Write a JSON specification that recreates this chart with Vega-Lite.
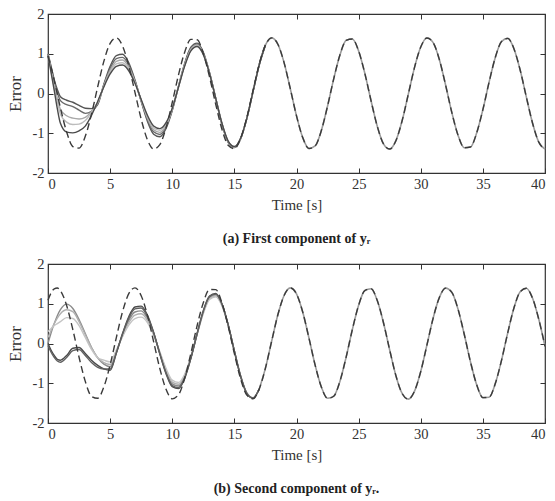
{
"$schema": "https://vega.github.io/schema/vega-lite/v6.json",
"background": "white",
"padding": {"left": 6, "top": 5, "right": 1, "bottom": 2},
"spacing": 8,
"config": {
  "font": "Liberation Serif",
  "view": {"stroke": "#333", "strokeWidth": 1.2},
  "axis": {"labelFont": "Liberation Serif", "titleFont": "Liberation Serif", "labelColor": "#333", "titleColor": "#333", "tickColor": "#333", "grid": false, "domain": false, "labelFontSize": 14.5, "titleFontSize": 15, "titleFontWeight": "normal", "tickSize": -5, "labelPadding": 9},
  "title": {"font": "Liberation Serif", "color": "#222"}
},
"resolve": {"scale": {"color": "independent"}},
"datasets": {
"a": [
{"t":0,"r":0.942,"s1":1.0,"s2":0.99,"s3":0.98,"s4":0.97,"s5":0.96},
{"t":0.25,"r":0.655,"s1":0.68,"s2":0.65,"s3":0.60,"s4":0.57,"s5":0.52},
{"t":0.5,"r":0.330,"s1":0.35,"s2":0.30,"s3":0.22,"s4":0.15,"s5":0.08},
{"t":0.75,"r":-0.017,"s1":0.10,"s2":0.03,"s3":-0.12,"s4":-0.20,"s5":-0.38},
{"t":1,"r":-0.363,"s1":-0.08,"s2":-0.18,"s3":-0.40,"s4":-0.52,"s5":-0.75},
{"t":1.5,"r":-0.966,"s1":-0.17,"s2":-0.28,"s3":-0.56,"s4":-0.72,"s5":-0.97},
{"t":2,"r":-1.334,"s1":-0.22,"s2":-0.33,"s3":-0.62,"s4":-0.78,"s5":-0.99},
{"t":2.5,"r":-1.374,"s1":-0.30,"s2":-0.42,"s3":-0.64,"s4":-0.77,"s5":-0.94},
{"t":3,"r":-1.078,"s1":-0.37,"s2":-0.50,"s3":-0.60,"s4":-0.68,"s5":-0.82},
{"t":3.5,"r":-0.519,"s1":-0.38,"s2":-0.45,"s3":-0.45,"s4":-0.48,"s5":-0.55},
{"t":4,"r":0.169,"s1":-0.276,"s2":-0.254,"s3":-0.235,"s4":-0.215,"s5":-0.199},
{"t":4.5,"r":0.814,"s1":0.238,"s2":0.219,"s3":0.202,"s4":0.186,"s5":0.171},
{"t":5,"r":1.261,"s1":0.682,"s2":0.627,"s3":0.580,"s4":0.532,"s5":0.491},
{"t":5.5,"r":1.398,"s1":0.952,"s2":0.876,"s3":0.809,"s4":0.743,"s5":0.685},
{"t":6,"r":1.194,"s1":0.986,"s2":0.910,"s3":0.842,"s4":0.775,"s5":0.718},
{"t":6.5,"r":0.697,"s1":0.770,"s2":0.714,"s3":0.664,"s4":0.614,"s5":0.572},
{"t":7,"r":0.029,"s1":0.338,"s2":0.315,"s3":0.294,"s4":0.274,"s5":0.256},
{"t":7.5,"r":-0.646,"s1":-0.199,"s2":-0.186,"s3":-0.174,"s4":-0.163,"s5":-0.153},
{"t":8,"r":-1.162,"s1":-0.698,"s2":-0.655,"s3":-0.618,"s4":-0.581,"s5":-0.548},
{"t":8.5,"r":-1.394,"s1":-1.023,"s2":-0.964,"s3":-0.913,"s4":-0.861,"s5":-0.818},
{"t":9,"r":-1.285,"s1":-1.089,"s2":-1.030,"s3":-0.979,"s4":-0.928,"s5":-0.884},
{"t":9.5,"r":-0.861,"s1":-0.878,"s2":-0.837,"s3":-0.802,"s4":-0.766,"s5":-0.735},
{"t":10,"r":-0.227,"s1":-0.428,"s2":-0.412,"s3":-0.397,"s4":-0.383,"s5":-0.371},
{"t":10.5,"r":0.465,"s1":0.178,"s2":0.173,"s3":0.168,"s4":0.163,"s5":0.159},
{"t":11,"r":1.040,"s1":0.758,"s2":0.738,"s3":0.721,"s4":0.704,"s5":0.689},
{"t":11.5,"r":1.362,"s1":1.164,"s2":1.138,"s3":1.116,"s4":1.093,"s5":1.074},
{"t":12,"r":1.351,"s1":1.267,"s2":1.242,"s3":1.221,"s4":1.200,"s5":1.181},
{"t":12.5,"r":1.008,"s1":1.039,"s2":1.021,"s3":1.007,"s4":0.991,"s5":0.978},
{"t":13,"r":0.418,"s1":0.527,"s2":0.520,"s3":0.514,"s4":0.508,"s5":0.503},
{"t":13.5,"r":-0.273,"s1":-0.127,"s2":-0.126,"s3":-0.125,"s4":-0.124,"s5":-0.123},
{"t":14,"r":-0.900,"s1":-0.775,"s2":-0.768,"s3":-0.762,"s4":-0.755,"s5":-0.750},
{"t":14.5,"r":-1.303,"s1":-1.228,"s2":-1.219,"s3":-1.211,"s4":-1.204,"s5":-1.197},
{"t":15,"r":-1.389,"s1":-1.360,"s2":-1.353,"s3":-1.347,"s4":-1.340,"s5":-1.335},
{"t":15.5,"r":-1.134,"s1":-1.143,"s2":-1.138,"s3":-1.135,"s4":-1.130,"s5":-1.126},
{"t":16,"r":-0.605,"s1":-0.632,"s2":-0.630,"s3":-0.629,"s4":-0.627,"s5":-0.626},
{"t":16.5,"r":0.077,"s1":0.047,"s2":0.047,"s3":0.047,"s4":0.047,"s5":0.047},
{"t":17,"r":0.738,"s1":0.722,"s2":0.721,"s3":0.720,"s4":0.719,"s5":0.718},
{"t":17.5,"r":1.218,"s1":1.218,"s2":1.218,"s3":1.218,"s4":1.218,"s5":1.218},
{"t":18,"r":1.400},{"t":18.5,"r":1.239},{"t":19,"r":0.777},{"t":19.5,"r":0.121},
{"t":20,"r":-0.562},{"t":20.5,"r":-1.109},{"t":21,"r":-1.383},{"t":21.5,"r":-1.319},
{"t":22,"r":-0.932},{"t":22.5,"r":-0.316},{"t":23,"r":0.375},{"t":23.5,"r":0.975},
{"t":24,"r":1.338},{"t":24.5,"r":1.372},{"t":25,"r":1.070},{"t":25.5,"r":0.506},
{"t":26,"r":-0.182},{"t":26.5,"r":-0.824},{"t":27,"r":-1.266},{"t":27.5,"r":-1.398},
{"t":28,"r":-1.187},{"t":28.5,"r":-0.686},{"t":29,"r":-0.016},{"t":29.5,"r":0.658},
{"t":30,"r":1.169},{"t":30.5,"r":1.395},{"t":31,"r":1.279},{"t":31.5,"r":0.851},
{"t":32,"r":0.213},{"t":32.5,"r":-0.477},{"t":33,"r":-1.050},{"t":33.5,"r":-1.365},
{"t":34,"r":-1.347},{"t":34.5,"r":-0.993},{"t":35,"r":-0.406},{"t":35.5,"r":0.286},
{"t":36,"r":0.907},{"t":36.5,"r":1.308},{"t":37,"r":1.387},{"t":37.5,"r":1.127},
{"t":38,"r":0.592},{"t":38.5,"r":-0.090},{"t":39,"r":-0.748},{"t":39.5,"r":-1.224},
{"t":40,"r":-1.400}
],
"b": [
{"t":0,"r":1.089,"s1":0.0,"s2":0.15,"s3":0.30,"s4":0.0,"s5":-0.05},
{"t":0.25,"r":1.273,"s1":0.27,"s2":0.33,"s3":0.38,"s4":-0.17,"s5":-0.22},
{"t":0.5,"r":1.377,"s1":0.50,"s2":0.50,"s3":0.45,"s4":-0.30,"s5":-0.35},
{"t":0.75,"r":1.397,"s1":0.70,"s2":0.64,"s3":0.50,"s4":-0.40,"s5":-0.44},
{"t":1,"r":1.329,"s1":0.85,"s2":0.75,"s3":0.55,"s4":-0.42,"s5":-0.47},
{"t":1.5,"r":0.955,"s1":0.99,"s2":0.85,"s3":0.65,"s4":-0.30,"s5":-0.35},
{"t":2,"r":0.347,"s1":0.88,"s2":0.80,"s3":0.63,"s4":-0.12,"s5":-0.18},
{"t":2.5,"r":-0.345,"s1":0.60,"s2":0.55,"s3":0.45,"s4":-0.10,"s5":-0.15},
{"t":3,"r":-0.953,"s1":0.25,"s2":0.22,"s3":0.15,"s4":-0.25,"s5":-0.30},
{"t":3.5,"r":-1.329,"s1":-0.10,"s2":-0.10,"s3":-0.15,"s4":-0.42,"s5":-0.48},
{"t":4,"r":-1.378,"s1":-0.36,"s2":-0.36,"s3":-0.36,"s4":-0.55,"s5":-0.60},
{"t":4.5,"r":-1.090,"s1":-0.52,"s2":-0.48,"s3":-0.42,"s4":-0.64,"s5":-0.64},
{"t":5,"r":-0.537,"s1":-0.584,"s2":-0.527,"s3":-0.463,"s4":-0.676,"s5":-0.641},
{"t":5.5,"r":0.150,"s1":-0.212,"s2":-0.192,"s3":-0.168,"s4":-0.246,"s5":-0.233},
{"t":6,"r":0.800,"s1":0.216,"s2":0.195,"s3":0.172,"s4":0.251,"s5":0.238},
{"t":6.5,"r":1.253,"s1":0.581,"s2":0.525,"s3":0.461,"s4":0.674,"s5":0.638},
{"t":7,"r":1.399,"s1":0.792,"s2":0.715,"s3":0.628,"s4":0.918,"s5":0.869},
{"t":7.5,"r":1.203,"s1":0.821,"s2":0.747,"s3":0.664,"s4":0.940,"s5":0.894},
{"t":8,"r":0.714,"s1":0.635,"s2":0.584,"s3":0.528,"s4":0.716,"s5":0.684},
{"t":8.5,"r":0.047,"s1":0.253,"s2":0.235,"s3":0.216,"s4":0.281,"s5":0.270},
{"t":9,"r":-0.630,"s1":-0.240,"s2":-0.226,"s3":-0.210,"s4":-0.263,"s5":-0.254},
{"t":9.5,"r":-1.152,"s1":-0.702,"s2":-0.666,"s3":-0.626,"s4":-0.760,"s5":-0.737},
{"t":10,"r":-1.392,"s1":-1.015,"s2":-0.970,"s3":-0.921,"s4":-1.087,"s5":-1.059},
{"t":10.5,"r":-1.292,"s1":-1.068,"s2":-1.026,"s3":-0.980,"s4":-1.135,"s5":-1.109},
{"t":11,"r":-0.875,"s1":-0.833,"s2":-0.804,"s3":-0.772,"s4":-0.879,"s5":-0.861},
{"t":11.5,"r":-0.245,"s1":-0.357,"s2":-0.346,"s3":-0.334,"s4":-0.374,"s5":-0.367},
{"t":12,"r":0.447,"s1":0.238,"s2":0.232,"s3":0.225,"s4":0.249,"s5":0.245},
{"t":12.5,"r":1.027,"s1":0.794,"s2":0.775,"s3":0.754,"s4":0.824,"s5":0.812},
{"t":13,"r":1.358,"s1":1.155,"s2":1.132,"s3":1.106,"s4":1.194,"s5":1.179},
{"t":13.5,"r":1.355,"s1":1.222,"s2":1.201,"s3":1.178,"s4":1.257,"s5":1.243},
{"t":14,"r":1.020,"s1":0.978,"s2":0.965,"s3":0.950,"s4":1.000,"s5":0.992},
{"t":14.5,"r":0.436,"s1":0.466,"s2":0.461,"s3":0.456,"s4":0.474,"s5":0.471},
{"t":15,"r":-0.255,"s1":-0.189,"s2":-0.188,"s3":-0.186,"s4":-0.192,"s5":-0.191},
{"t":15.5,"r":-0.886,"s1":-0.817,"s2":-0.812,"s3":-0.807,"s4":-0.825,"s5":-0.822},
{"t":16,"r":-1.297,"s1":-1.248,"s2":-1.243,"s3":-1.237,"s4":-1.257,"s5":-1.253},
{"t":16.5,"r":-1.391,"s1":-1.370,"s2":-1.367,"s3":-1.363,"s4":-1.375,"s5":-1.373},
{"t":17,"r":-1.145,"s1":-1.145,"s2":-1.145,"s3":-1.145,"s4":-1.145,"s5":-1.145},
{"t":17.5,"r":-0.620},{"t":18,"r":0.058},{"t":18.5,"r":0.723},{"t":19,"r":1.208},
{"t":19.5,"r":1.399},{"t":20,"r":1.248},{"t":20.5,"r":0.791},{"t":21,"r":0.140},
{"t":21.5,"r":-0.544},{"t":22,"r":-1.096},{"t":22.5,"r":-1.379},{"t":23,"r":-1.326},
{"t":23.5,"r":-0.947},{"t":24,"r":-0.336},{"t":24.5,"r":0.357},{"t":25,"r":0.962},
{"t":25.5,"r":1.332},{"t":26,"r":1.376},{"t":26.5,"r":1.082},{"t":27,"r":0.523},
{"t":27.5,"r":-0.163},{"t":28,"r":-0.809},{"t":28.5,"r":-1.257},{"t":29,"r":-1.399},
{"t":29.5,"r":-1.197},{"t":30,"r":-0.703},{"t":30.5,"r":-0.036},{"t":31,"r":0.640},
{"t":31.5,"r":1.159},{"t":32,"r":1.393},{"t":32.5,"r":1.288},{"t":33,"r":0.865},
{"t":33.5,"r":0.232},{"t":34,"r":-0.458},{"t":34.5,"r":-1.036},{"t":35,"r":-1.361},
{"t":35.5,"r":-1.352},{"t":36,"r":-1.008},{"t":36.5,"r":-0.425},{"t":37,"r":0.268},
{"t":37.5,"r":0.893},{"t":38,"r":1.301},{"t":38.5,"r":1.390},{"t":39,"r":1.138},
{"t":39.5,"r":0.609},{"t":40,"r":-0.070}
]
},
"vconcat": [
{
  "width": 497, "height": 159,
  "title": {"text": "(a) First component of yᵣ", "orient": "bottom", "fontSize": 14, "fontWeight": "bold", "offset": 19},
  "data": {"name": "a"},
  "resolve": {"axis": {"x": "independent", "y": "independent"}},
  "layer": [
    {"transform": [{"filter": "datum.t >= 17"}],
     "mark": {"type": "line", "stroke": "#9a9a9a", "strokeWidth": 1.6, "interpolate": "monotone"},
     "encoding": {
       "x": {"field": "t", "type": "quantitative", "scale": {"domain": [0, 40], "nice": false},
             "axis": {"orient": "bottom", "values": [0,5,10,15,20,25,30,35,40], "title": "Time [s]", "titlePadding": 7}},
       "y": {"field": "r", "type": "quantitative", "scale": {"domain": [-2, 2], "nice": false},
             "axis": {"orient": "left", "values": [-2,-1,0,1,2], "title": "Error", "titleFontSize": 17, "titlePadding": 7, "labelExpr": "'' + datum.value"}}
     }},
    {"transform": [{"fold": ["s1","s2","s3","s4","s5"], "as": ["k","v"]}, {"filter": "isValid(datum.v)"}],
     "mark": {"type": "line", "strokeWidth": 1.4, "interpolate": "monotone"},
     "encoding": {
       "x": {"field": "t", "type": "quantitative", "axis": null},
       "y": {"field": "v", "type": "quantitative", "axis": null},
       "color": {"field": "k", "type": "nominal", "legend": null,
                 "scale": {"domain": ["s1","s2","s3","s4","s5"], "range": ["#555555","#6a6a6a","#a8a8a8","#bcbcbc","#4a4a4a"]}}
     }},
    {"mark": {"type": "line", "stroke": "#3a3a3a", "strokeWidth": 1.4, "strokeDash": [7, 4], "interpolate": "monotone"},
     "encoding": {
       "x": {"field": "t", "type": "quantitative", "axis": {"orient": "top", "values": [0,5,10,15,20,25,30,35,40], "labels": false, "title": null}},
       "y": {"field": "r", "type": "quantitative", "axis": {"orient": "right", "values": [-2,-1,0,1,2], "labels": false, "title": null}}
     }}
  ]
},
{
  "width": 497, "height": 159,
  "title": {"text": "(b) Second component of yᵣ.", "orient": "bottom", "fontSize": 14, "fontWeight": "bold", "offset": 19},
  "data": {"name": "b"},
  "resolve": {"axis": {"x": "independent", "y": "independent"}},
  "layer": [
    {"transform": [{"filter": "datum.t >= 17"}],
     "mark": {"type": "line", "stroke": "#9a9a9a", "strokeWidth": 1.6, "interpolate": "monotone"},
     "encoding": {
       "x": {"field": "t", "type": "quantitative", "scale": {"domain": [0, 40], "nice": false},
             "axis": {"orient": "bottom", "values": [0,5,10,15,20,25,30,35,40], "title": "Time [s]", "titlePadding": 7}},
       "y": {"field": "r", "type": "quantitative", "scale": {"domain": [-2, 2], "nice": false},
             "axis": {"orient": "left", "values": [-2,-1,0,1,2], "title": "Error", "titleFontSize": 17, "titlePadding": 7, "labelExpr": "'' + datum.value"}}
     }},
    {"transform": [{"fold": ["s1","s2","s3","s4","s5"], "as": ["k","v"]}, {"filter": "isValid(datum.v)"}],
     "mark": {"type": "line", "strokeWidth": 1.4, "interpolate": "monotone"},
     "encoding": {
       "x": {"field": "t", "type": "quantitative", "axis": null},
       "y": {"field": "v", "type": "quantitative", "axis": null},
       "color": {"field": "k", "type": "nominal", "legend": null,
                 "scale": {"domain": ["s1","s2","s3","s4","s5"], "range": ["#8a8a8a","#b0b0b0","#c4c4c4","#4a4a4a","#606060"]}}
     }},
    {"mark": {"type": "line", "stroke": "#3a3a3a", "strokeWidth": 1.4, "strokeDash": [7, 4], "interpolate": "monotone"},
     "encoding": {
       "x": {"field": "t", "type": "quantitative", "axis": {"orient": "top", "values": [0,5,10,15,20,25,30,35,40], "labels": false, "title": null}},
       "y": {"field": "r", "type": "quantitative", "axis": {"orient": "right", "values": [-2,-1,0,1,2], "labels": false, "title": null}}
     }}
  ]
}
]
}
